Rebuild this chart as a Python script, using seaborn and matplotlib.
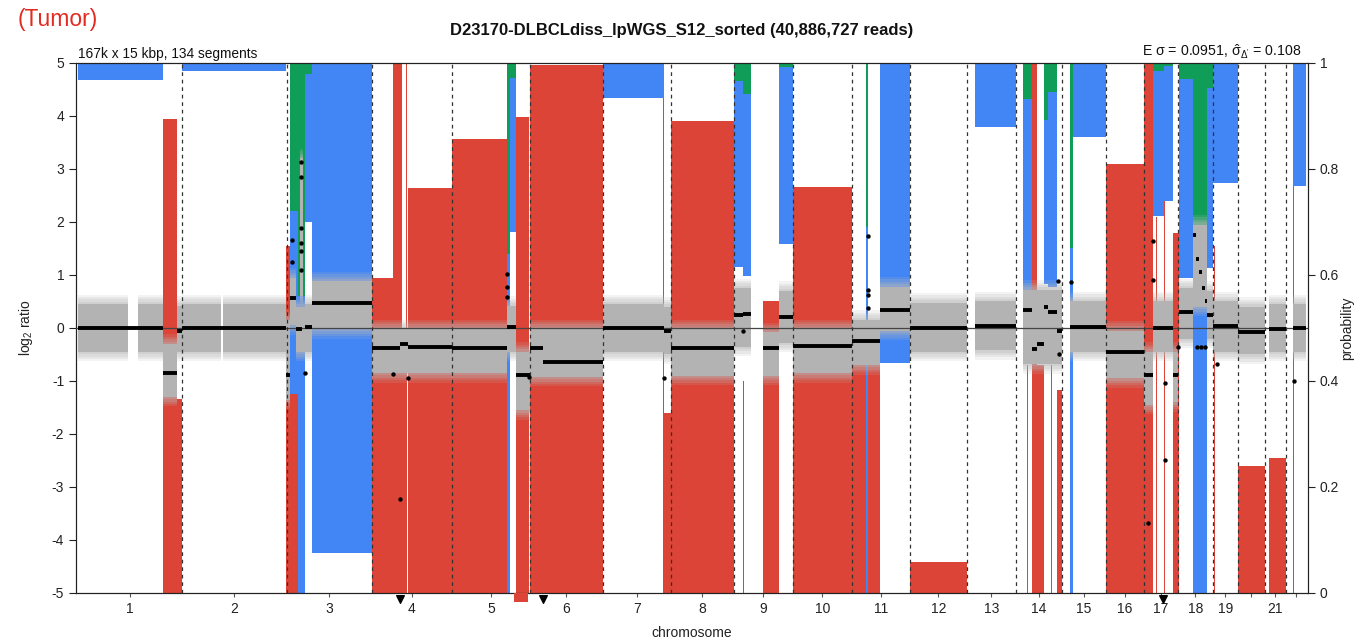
import numpy as np
import pandas as pd
import matplotlib
matplotlib.use("Agg")
import matplotlib.pyplot as plt
import seaborn as sns

# ---------------- genome layout (Mb of binned genome) ----------------
chrom_names = [str(i) for i in range(1, 23)]
chrom_len_mb = [208, 210, 170, 160, 156, 146, 136, 126, 118, 118, 116,
                114, 98, 92, 88, 76, 68, 70, 50, 54, 42, 40]
chrom_tick_labels = ["1", "2", "3", "4", "5", "6", "7", "8", "9", "10", "11",
                     "12", "13", "14", "15", "16", "17", "18", "19", "", "21", ""]

# ---------------- segmentation (genome-wide Mb, log2 ratio) ----------------
seg_start = [0, 171, 199, 208, 416, 424, 436, 454, 468, 588, 644, 660, 748, 858, 876,
             904, 930, 1050, 1172, 1186, 1312, 1330, 1370, 1402, 1430, 1548, 1604,
             1664, 1794, 1890, 1908, 1918, 1932, 1940, 1958, 1984, 2056, 2132, 2150,
             2190, 2202, 2230, 2236, 2242, 2248, 2254, 2258, 2270, 2320, 2382, 2430]
seg_end = [171, 199, 208, 416, 424, 436, 448, 468, 588, 644, 660, 748, 858, 876, 904,
           930, 1050, 1172, 1186, 1312, 1330, 1346, 1402, 1430, 1548, 1604, 1664,
           1778, 1876, 1908, 1918, 1932, 1940, 1958, 1968, 2056, 2132, 2150, 2190,
           2200, 2230, 2236, 2242, 2248, 2254, 2258, 2270, 2320, 2374, 2416, 2456]
seg_log2 = [0.0, -0.85, -0.05, 0.0, -0.89, 0.57, -0.02, 0.02, 0.47, -0.38, -0.30, -0.35,
            -0.37, 0.02, -0.89, -0.38, -0.64, 0.0, -0.05, -0.38, 0.25, 0.27, -0.38, 0.21,
            -0.34, -0.25, 0.34, 0.0, 0.03, 0.33, -0.39, -0.30, 0.40, 0.30, -0.05, 0.02,
            -0.46, -0.89, 0.0, -0.89, 0.30, 1.75, 1.30, 1.05, 0.75, 0.50, 0.25, 0.04,
            -0.08, -0.02, 0.0]

# ---------------- spread of binned log2 ratios per region ----------------
cloud_start = [0, 120, 171, 199, 208, 290, 416, 424, 436, 444, 454, 468, 588, 748, 858,
               876, 904, 1050, 1172, 1186, 1312, 1370, 1402, 1430, 1548, 1604, 1664,
               1794, 1890, 1984, 2056, 2132, 2150, 2190, 2202, 2230, 2258, 2270, 2320,
               2382, 2430]
cloud_end = [100, 171, 199, 208, 286, 416, 424, 436, 454, 450, 468, 588, 748, 858, 876,
             904, 1050, 1172, 1186, 1312, 1346, 1402, 1430, 1548, 1604, 1664, 1778,
             1876, 1968, 2056, 2132, 2150, 2190, 2200, 2230, 2258, 2270, 2320, 2374,
             2416, 2456]
cloud_lo = [-0.45, -0.45, -1.30, -0.45, -0.45, -0.45, -1.35, 0.05, -0.45, 0.60, -0.45,
            -0.02, -0.85, -0.85, -0.45, -1.55, -0.92, -0.45, -0.50, -0.90, -0.35, -0.90,
            -0.28, -0.85, -0.70, -0.05, -0.45, -0.42, -0.68, -0.45, -0.95, -1.45, -0.45,
            -1.40, -0.20, 0.40, -0.20, -0.45, -0.50, -0.45, -0.45]
cloud_hi = [0.45, 0.45, -0.30, 0.42, 0.45, 0.45, 0.15, 0.95, 0.40, 3.20, 0.45,
            0.88, -0.02, -0.02, 0.42, -0.45, -0.02, 0.45, 0.40, -0.02, 0.75, -0.08,
            0.70, -0.02, 0.15, 0.78, 0.48, 0.50, 0.72, 0.50, -0.05, -0.45, 0.50,
            -0.45, 0.75, 1.95, 0.70, 0.50, 0.40, 0.45, 0.45]

# ---------------- call probabilities per region ----------------
prob_start = [0, 171, 199, 208, 416, 424, 440, 454, 468, 588, 630, 648, 657, 660, 748,
              858, 864, 876, 904, 1050, 1171, 1173, 1186, 1312, 1330, 1330, 1370, 1402,
              1430, 1548, 1577, 1604, 1664, 1794, 1890, 1898, 1908, 1918, 1932, 1940,
              1946, 1958, 1984, 1990, 2056, 2132, 2150, 2157, 2172, 2173, 2190, 2202,
              2230, 2258, 2270, 2273, 2320, 2382, 2430, 2431]
prob_end = [171, 199, 208, 416, 424, 440, 454, 468, 588, 630, 648, 656, 659, 748, 858,
            864, 876, 902, 1050, 1172, 1173, 1186, 1312, 1330, 1346, 1333, 1402, 1430,
            1548, 1604, 1581, 1664, 1778, 1876, 1908, 1900, 1918, 1932, 1940, 1958,
            1948, 1968, 1990, 2056, 2132, 2150, 2172, 2159, 2190, 2175, 2202, 2230,
            2258, 2270, 2320, 2275, 2374, 2416, 2456, 2433]
p_loss = [0, 0.895, 0.366, 0, 0.655, 0.376, 0, 0, 0, 0.594, 1.0, 0.50, 1.0, 0.764, 0.857,
          0, 0, 0.899, 0.997, 0, 1.0, 0.34, 0.891, 0, 0, 0.40, 0.55, 0,
          0.766, 0.43, 0, 0, 0.058, 0, 0, 0.43, 1.0, 0.43, 0, 0,
          0.43, 0.383, 0, 0, 0.809, 0.998, 0, 0.71, 0, 0.74, 0.68, 0,
          0, 0, 0, 0.655, 0.24, 0.254, 0, 0.77]
p_gain = [0.033, 0, 0, 0.015, 0, 0.344, 0.56, 0.28, 0.925, 0, 0, 0, 0, 0, 0,
          0.64, 0.29, 0, 0, 0.066, 0, 0, 0, 0.35, 0.344, 0, 0, 0.334,
          0, 0, 0.69, 0.566, 0, 0.12, 0.36, 0, 0, 0, 0.31, 0.367,
          0, 0, 0.65, 0.14, 0, 0, 0.274, 0, 0.255, 0, 0, 0.375,
          0.64, 0.34, 0.226, 0, 0, 0, 0.233, 0]
p_amp = [0, 0, 0, 0, 0, 0.28, 0.44, 0.02, 0, 0, 0, 0, 0, 0, 0,
         0.36, 0.028, 0, 0, 0, 0, 0, 0, 0.034, 0.058, 0, 0, 0.008,
         0, 0, 0.31, 0, 0, 0, 0.068, 0, 0, 0, 0.107, 0.055,
         0, 0, 0.35, 0, 0, 0, 0.015, 0, 0.005, 0, 0, 0.03,
         0.36, 0.047, 0, 0, 0, 0, 0, 0]

# ---------------- isolated bins / short segments ----------------
dot_pos = [428, 428, 446, 446, 446, 446, 446, 446, 454, 630, 644, 660, 858, 858, 858,
           902, 1172, 1330, 1580, 1580, 1580, 1580, 1960, 1962, 1986, 2150, 2150,
           2174, 2174, 2140, 2200, 2238, 2246, 2254, 2278, 2432]
dot_log2 = [1.66, 1.25, 3.13, 2.85, 1.89, 1.60, 1.45, 1.10, -0.85, -0.86, -3.23, -0.95,
            1.02, 0.78, 0.58, -0.92, -0.95, -0.05, 1.73, 0.72, 0.62, 0.38, 0.88, -0.50,
            0.87, 1.64, 0.91, -1.04, -2.50, -3.68, -0.35, -0.35, -0.35, -0.35, -0.68,
            -1.00]
# bins beyond the lower plotting limit
offscale_pos = [645, 930, 2170]
# masked stretch flagged under chromosome 5
flag_start, flag_end = 872, 900

RED, BLUE, GREEN, GRAY = "#db4437", "#4285f4", "#0f9d58", "#b3b3b3"

sns.set_theme(style="ticks")
plt.rcParams["font.family"] = ["Liberation Sans", "DejaVu Sans"]
plt.rcParams["axes.unicode_minus"] = False
plt.rcParams["mathtext.default"] = "regular"

chrom_start = np.concatenate([[0], np.cumsum(chrom_len_mb)[:-1]])
chrom_end = np.cumsum(chrom_len_mb)
chrom_mid = (chrom_start + chrom_end) / 2

prob = pd.DataFrame({"start": prob_start, "end": prob_end, "loss": p_loss,
                     "gain": p_gain, "amp": p_amp})
prob["width"] = prob["end"] - prob["start"]
cloud = pd.DataFrame({"start": cloud_start, "end": cloud_end, "lo": cloud_lo, "hi": cloud_hi})
dots = pd.DataFrame({"pos": dot_pos, "log2": dot_log2})

fig, ax = plt.subplots(figsize=(13.56, 6.44), dpi=100)
fig.subplots_adjust(left=0.056, right=0.9646, top=0.9022, bottom=0.0792)
axp = ax.twinx()
ax.set_zorder(axp.get_zorder() + 1)
ax.patch.set_visible(False)

# probability bars: loss from the bottom, amplification then gain from the top
axp.bar(prob["start"], prob["loss"], width=prob["width"], bottom=0, align="edge",
        color=RED, linewidth=0)
axp.bar(prob["start"], prob["amp"], width=prob["width"], bottom=1 - prob["amp"],
        align="edge", color=GREEN, linewidth=0)
axp.bar(prob["start"], prob["gain"], width=prob["width"],
        bottom=1 - prob["amp"] - prob["gain"], align="edge", color=BLUE, linewidth=0)
axp.set_ylim(0, 1)
axp.set_yticks([0, 0.2, 0.4, 0.6, 0.8, 1.0])
axp.set_yticklabels(["0", "0.2", "0.4", "0.6", "0.8", "1"])

# binned log2 ratios: dense core with a soft, thinning fringe
cw = cloud["end"] - cloud["start"]
for k, alpha in zip([4, 3, 2, 1], [0.16, 0.2, 0.25, 0.3]):
    pad = 0.045 * k
    ax.bar(cloud["start"], cloud["hi"] - cloud["lo"] + 2 * pad, width=cw,
           bottom=cloud["lo"] - pad, align="edge", color="#b8b8b8", alpha=alpha,
           linewidth=0, zorder=2)
ax.bar(cloud["start"], cloud["hi"] - cloud["lo"], width=cw, bottom=cloud["lo"],
       align="edge", color=GRAY, linewidth=0, zorder=2.5)

ax.axhline(0, color="#444444", lw=0.9, zorder=3)
for b in chrom_end[:-1]:
    ax.axvline(b, color="#333333", lw=0.9, ls=(0, (3, 3)), zorder=3.5)

ax.hlines(seg_log2, seg_start, seg_end, color="black", lw=2.8, zorder=5)
sns.scatterplot(data=dots, x="pos", y="log2", color="black", s=10, linewidth=0,
                ax=ax, zorder=6, legend=False)

ax.scatter(offscale_pos, [-5.12] * len(offscale_pos), marker="v", s=30, color="black",
           clip_on=False, zorder=7)
ax.bar([flag_start], [-0.17], width=flag_end - flag_start, bottom=-5, align="edge",
       color=RED, linewidth=0, clip_on=False, zorder=6)

ax.set_xlim(-4, 2460)
ax.set_ylim(-5, 5)
ax.set_yticks(range(-5, 6))
ax.set_xticks(chrom_mid)
ax.set_xticklabels(chrom_tick_labels)
ax.set_xlabel("chromosome", fontsize=10, color="#222222")
ax.set_ylabel(r"log$_2$ ratio", fontsize=10, color="#222222")
axp.set_ylabel("probability", fontsize=10, color="#222222")
ax.xaxis.set_label_coords(0.5, -0.062)
ax.yaxis.set_label_coords(-0.033, 0.5)
axp.yaxis.set_label_coords(1.026, 0.5)

for a in (ax, axp):
    a.tick_params(labelsize=10, length=5, width=0.8, colors="#222222")
    for sp in a.spines.values():
        sp.set_color("#222222")
        sp.set_linewidth(0.8)
ax.tick_params(axis="x", length=3, colors="#555555", labelcolor="#222222")
ax.grid(False)
axp.grid(False)

ax.text(0.002, 1.004, "167k x 15 kbp, 134 segments", transform=ax.transAxes,
        ha="left", va="bottom", fontsize=9.9, color="#111111")
ax.text(0.995, 1.004, r"E $\sigma$ = 0.0951, $\hat{\sigma}_{\Delta'}$ = 0.108",
        transform=ax.transAxes, ha="right", va="bottom", fontsize=10.2, color="#111111")
fig.text(0.503, 0.952, "D23170-DLBCLdiss_lpWGS_S12_sorted (40,886,727 reads)",
         ha="center", va="center", fontsize=12, fontweight="bold", color="#111111")
fig.text(0.0133, 0.988, "(Tumor)", ha="left", va="top", fontsize=16.5, color="#e32b22")

fig.savefig("out.png", dpi=100)
